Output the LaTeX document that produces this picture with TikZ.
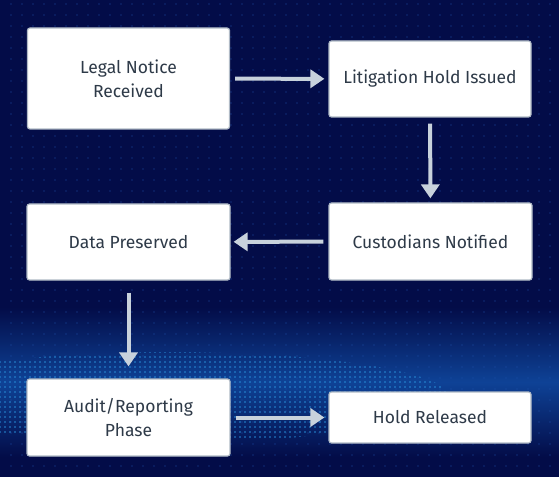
\documentclass[tikz,border=0pt]{standalone}
\usepackage{fontspec}
\setmainfont{Fira Sans}
\usetikzlibrary{arrows.meta,patterns.meta}
\definecolor{navy}{RGB}{3,12,72}
\definecolor{waveblue}{RGB}{14,66,150}
\definecolor{dotblue}{RGB}{30,80,170}
\definecolor{wavecyan}{RGB}{40,140,215}
\definecolor{boxline}{RGB}{176,186,198}
\definecolor{boxtext}{RGB}{46,58,72}
\definecolor{arrowgray}{RGB}{200,210,220}
\tikzset{
  stepbox/.style={draw=boxline, line width=1.2pt, fill=white, rounded corners=2.5pt,
    align=center, text=boxtext, font=\fontsize{17.5}{24}\selectfont, inner sep=0pt},
  flowarrow/.style={draw=arrowgray, line width=4pt,
    -{Triangle[length=14pt,width=18pt]}, shorten <=5pt, shorten >=4pt}
}
\begin{document}
\begin{tikzpicture}[x=1pt,y=1pt]
\useasboundingbox (0,0) rectangle (559,477);
\fill[navy] (0,0) rectangle (559,477);
% background glow and dots
\shade[top color=navy, bottom color=navy, middle color=waveblue] (0,20) rectangle (559,170);
\fill[pattern={Dots[distance=11pt,radius=0.7pt]}, pattern color=dotblue] (2,2) rectangle (557,475);
\begin{scope}
\clip (170,80) ellipse (280 and 45);
\fill[pattern={Dots[distance=5pt,radius=0.8pt]}, pattern color=wavecyan] (0,30) rectangle (559,130);
\end{scope}

\node[stepbox, minimum width=202pt, minimum height=101pt] (notice)    at (128.5, 398.5) {Legal Notice\\Received};
\node[stepbox, minimum width=202pt, minimum height=76pt]  (hold)      at (430, 398)     {Litigation Hold Issued};
\node[stepbox, minimum width=203pt, minimum height=77pt]  (custodian) at (430.5, 235.5) {Custodians Notified};
\node[stepbox, minimum width=203pt, minimum height=76pt]  (preserved) at (128.5, 235)   {Data Preserved};
\node[stepbox, minimum width=203pt, minimum height=77pt]  (audit)     at (128.5, 59.5)  {Audit/Reporting\\Phase};
\node[stepbox, minimum width=202pt, minimum height=51pt]  (released)  at (430, 59.5)    {Hold Released};

\draw[flowarrow] (notice) -- (hold);
\draw[flowarrow, shorten <=6pt] (hold) -- (custodian);
\draw[flowarrow, shorten >=3pt] (custodian) -- (preserved);
\draw[flowarrow, shorten <=12pt, shorten >=12pt] (preserved) -- (audit);
\draw[flowarrow] (audit) -- (released);

\end{tikzpicture}
\end{document}
